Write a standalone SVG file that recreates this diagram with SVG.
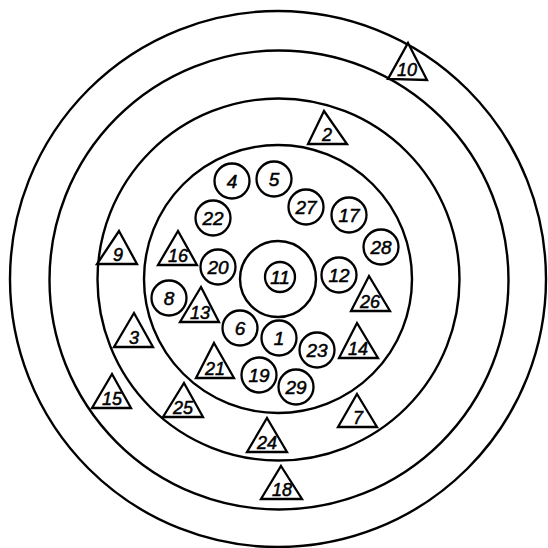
<svg xmlns="http://www.w3.org/2000/svg" width="548" height="548" viewBox="0 0 548 548">
<style>
.ring{fill:none;stroke:#000;stroke-width:2.4}
.n circle{fill:#fff;stroke:#000;stroke-width:2.3}
.n polygon{fill:#fff;stroke:#000;stroke-width:2.3;stroke-linejoin:miter}
.n text{font-family:"Liberation Sans",Arial,sans-serif;font-style:italic;fill:#000;stroke:#000;stroke-width:0.5;text-anchor:middle}
.c text{font-size:19px}
.t text{font-size:18px}
</style>
<rect width="548" height="548" fill="#fff"/>
<g id="rings">
<circle class="ring" cx="278" cy="279" r="268"/>
<circle class="ring" cx="279" cy="280" r="229.5"/>
<circle class="ring" cx="278.5" cy="279.5" r="181"/>
<circle class="ring" cx="278" cy="279" r="134"/>
<circle class="ring" cx="278" cy="279" r="38"/>
</g>
<g id="connectors"></g>
<g id="n11" class="n c"><circle cx="280" cy="277" r="15"/><text x="280" y="284">11</text></g>
<g id="n4" class="n c"><circle cx="232" cy="181" r="17.5"/><text x="232" y="188">4</text></g>
<g id="n5" class="n c"><circle cx="274" cy="179" r="17.5"/><text x="274" y="186">5</text></g>
<g id="n27" class="n c"><circle cx="306" cy="207" r="17.5"/><text x="306" y="214">27</text></g>
<g id="n17" class="n c"><circle cx="349" cy="215" r="17.5"/><text x="349" y="222">17</text></g>
<g id="n28" class="n c"><circle cx="381" cy="247" r="17.5"/><text x="381" y="254">28</text></g>
<g id="n22" class="n c"><circle cx="213" cy="218" r="17.5"/><text x="213" y="225">22</text></g>
<g id="n20" class="n c"><circle cx="218" cy="267" r="17.5"/><text x="218" y="274">20</text></g>
<g id="n12" class="n c"><circle cx="339" cy="275" r="17.5"/><text x="339" y="282">12</text></g>
<g id="n8" class="n c"><circle cx="169" cy="298" r="17.5"/><text x="169" y="305">8</text></g>
<g id="n6" class="n c"><circle cx="240" cy="328" r="17.5"/><text x="240" y="335">6</text></g>
<g id="n1" class="n c"><circle cx="279" cy="338" r="17.5"/><text x="279" y="345">1</text></g>
<g id="n23" class="n c"><circle cx="317" cy="350" r="17.5"/><text x="317" y="357">23</text></g>
<g id="n19" class="n c"><circle cx="259" cy="375" r="17.5"/><text x="259" y="382">19</text></g>
<g id="n29" class="n c"><circle cx="296" cy="387" r="17.5"/><text x="296" y="394">29</text></g>
<g id="t10" class="n t"><polygon points="408,43 427,80 388,79"/><text x="407" y="76">10</text></g>
<g id="t2" class="n t"><polygon points="324,111 347,144 308,144"/><text x="327" y="141">2</text></g>
<g id="t9" class="n t"><polygon points="119,231 137,264 97,264"/><text x="118" y="261">9</text></g>
<g id="t16" class="n t"><polygon points="178,231 197,265 158,265"/><text x="178" y="262">16</text></g>
<g id="t13" class="n t"><polygon points="201,287 219,322 180,322"/><text x="200" y="319">13</text></g>
<g id="t3" class="n t"><polygon points="134,313 153,347 114,347"/><text x="134" y="344">3</text></g>
<g id="t26" class="n t"><polygon points="369,276 390,311 351,311"/><text x="370" y="308">26</text></g>
<g id="t14" class="n t"><polygon points="357,323 378,358 339,358"/><text x="358" y="355">14</text></g>
<g id="t21" class="n t"><polygon points="214,343 234,378 196,378"/><text x="215" y="375">21</text></g>
<g id="t15" class="n t"><polygon points="112,374 131,408 92,408"/><text x="112" y="405">15</text></g>
<g id="t25" class="n t"><polygon points="184,383 203,417 163,417"/><text x="183" y="414">25</text></g>
<g id="t7" class="n t"><polygon points="357,394 377,427 338,427"/><text x="358" y="424">7</text></g>
<g id="t24" class="n t"><polygon points="267,418 287,452 247,452"/><text x="267" y="449">24</text></g>
<g id="t18" class="n t"><polygon points="281,466 302,499 261,499"/><text x="282" y="496">18</text></g>
</svg>
